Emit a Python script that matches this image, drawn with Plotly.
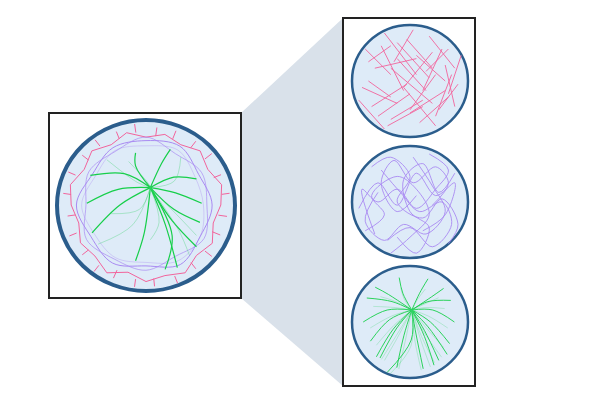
import math
import plotly.graph_objects as go

# ---- data (normalized to each circle: x right, y down, radius 1) ----
# left overview: pink jagged ring (angle deg, radius)
ring_ang = [0, 15, 30, 45, 60, 75, 90, 105, 120, 135, 150, 165, 180, 195, 210, 225, 240, 255, 270, 285, 300, 315, 330, 345, 360]
ring_rad = [0.86, 0.80, 0.88, 0.82, 0.90, 0.84, 0.88, 0.80, 0.90, 0.83, 0.87, 0.80, 0.86, 0.90, 0.82, 0.88, 0.80, 0.86, 0.78, 0.84, 0.80, 0.88, 0.82, 0.90, 0.86]
tick_ang = [8, 22, 38, 52, 68, 84, 98, 114, 128, 142, 158, 172, 188, 203, 218, 232, 248, 262, 278, 292, 308, 322, 338, 352]
tick_r0 = [0.84, 0.82, 0.86, 0.84, 0.88, 0.85, 0.86, 0.82, 0.88, 0.84, 0.86, 0.82, 0.87, 0.88, 0.84, 0.86, 0.82, 0.84, 0.80, 0.82, 0.83, 0.86, 0.84, 0.88]
tick_r1 = [0.94, 0.92, 0.96, 0.93, 0.97, 0.94, 0.95, 0.92, 0.97, 0.93, 0.95, 0.91, 0.96, 0.97, 0.93, 0.95, 0.91, 0.94, 0.90, 0.92, 0.93, 0.96, 0.93, 0.97]
# purple wavy rings (angles every 30 deg)
wave_ang = [0, 30, 60, 90, 120, 150, 180, 210, 240, 270, 300, 330, 360]
wave_a = [0.76, 0.72, 0.79, 0.70, 0.77, 0.73, 0.80, 0.71, 0.76, 0.74, 0.78, 0.70, 0.76]
wave_b = [0.70, 0.77, 0.68, 0.75, 0.72, 0.79, 0.69, 0.76, 0.71, 0.78, 0.68, 0.74, 0.70]
wave_c = [0.66, 0.72, 0.74, 0.66, 0.70, 0.68, 0.74, 0.67, 0.72, 0.68, 0.73, 0.65, 0.66]
# green rays: hub, mid points, end points
hub_l = (0.05, -0.2)
ray_mx = [-0.25, -0.32, -0.30, 0.32, 0.34, 0.32, 0.30, 0.22, 0.18, -0.12, 0.30, -0.02]
ray_my = [-0.36, -0.18, 0.00, -0.32, -0.14, 0.05, 0.18, 0.22, -0.48, -0.45, 0.35, 0.32]
ray_ex = [-0.64, -0.68, -0.62, 0.58, 0.64, 0.62, 0.58, 0.36, 0.28, -0.12, 0.22, -0.12]
ray_ey = [-0.34, -0.02, 0.32, -0.30, -0.02, 0.20, 0.48, 0.72, -0.64, -0.60, 0.74, 0.64]
faint_ex = [-0.55, -0.45, 0.40, 0.58, -0.40, 0.50, -0.20, 0.05]
faint_ey = [0.45, -0.52, -0.55, 0.35, 0.10, 0.58, -0.50, 0.40]

# right top: pink straight segments (x0, y0, x1, y1)
seg_x0 = [-0.70, -0.55, -0.40, -0.20, 0.05, 0.30, 0.50, -0.75, -0.60, -0.30, 0.10, 0.40, 0.60, -0.50, -0.10, 0.20, 0.45, -0.65, -0.35, 0.00, 0.35, -0.20, 0.15, -0.80, 0.55, -0.45, 0.25, -0.05, 0.65, -0.30]
seg_y0 = [-0.50, -0.20, -0.75, -0.60, -0.80, -0.70, -0.50, 0.10, 0.40, -0.20, -0.40, -0.10, 0.20, 0.55, 0.10, 0.30, 0.45, -0.30, 0.70, 0.50, -0.45, -0.35, 0.65, 0.30, -0.25, -0.55, -0.15, -0.65, -0.10, 0.25]
seg_x1 = [-0.30, 0.10, 0.10, 0.30, -0.25, 0.70, 0.20, -0.20, -0.05, 0.35, 0.55, 0.00, 0.80, 0.00, 0.40, -0.30, 0.75, -0.30, 0.20, 0.55, -0.10, 0.25, 0.60, -0.40, 0.70, -0.10, 0.60, 0.35, 0.40, -0.65]
seg_y1 = [-0.10, -0.35, -0.10, -0.05, -0.30, -0.20, 0.15, 0.35, 0.05, 0.35, 0.00, 0.45, -0.40, 0.20, 0.70, 0.60, 0.05, -0.55, 0.40, 0.15, 0.10, 0.15, 0.25, 0.75, 0.40, 0.15, -0.50, -0.20, 0.55, 0.00]
# right middle: purple tangled curves
tangle_x = [
    [-0.80, -0.50, -0.20, 0.10, 0.40, 0.70, 0.55, 0.20],
    [-0.60, -0.30, 0.00, -0.20, 0.20, 0.50, 0.75, 0.60],
    [-0.70, -0.40, -0.60, -0.20, 0.10, 0.30, 0.00, -0.30],
    [0.30, 0.60, 0.40, 0.10, -0.20, -0.50, -0.75, -0.55],
    [-0.35, 0.00, 0.35, 0.65, 0.50, 0.15, -0.15, -0.45],
    [0.70, 0.45, 0.20, -0.10, 0.00, 0.30, 0.10, -0.20],
    [-0.50, -0.70, -0.40, -0.10, 0.25, 0.55, 0.35, 0.05],
    [0.10, -0.20, -0.45, -0.25, 0.05, 0.40, 0.60, 0.35],
]
tangle_y = [
    [0.10, -0.30, 0.05, -0.45, -0.10, -0.30, 0.20, 0.45],
    [-0.55, -0.70, -0.40, 0.00, 0.25, -0.05, 0.35, 0.65],
    [0.45, 0.20, -0.10, -0.40, -0.20, 0.20, 0.55, 0.80],
    [-0.75, -0.50, -0.20, 0.10, -0.20, 0.00, -0.20, 0.50],
    [0.60, 0.40, 0.70, 0.35, 0.00, 0.15, -0.15, -0.50],
    [-0.45, -0.15, -0.60, -0.35, 0.15, 0.40, 0.80, 0.55],
    [-0.15, 0.30, 0.60, 0.35, 0.50, 0.15, -0.25, -0.70],
    [-0.10, 0.15, -0.30, -0.65, -0.30, -0.55, -0.30, 0.05],
]
# right bottom: green rays from hub
hub_r = (0.03, -0.2)
gr_mx = [-0.30, -0.38, -0.34, -0.22, 0.30, 0.38, 0.34, 0.24, 0.10, -0.12, 0.16, -0.36, 0.36, -0.10, 0.24, 0.02, -0.28, 0.30]
gr_my = [-0.34, -0.20, -0.04, 0.10, -0.34, -0.20, 0.00, 0.14, 0.20, -0.48, -0.48, -0.46, -0.42, 0.22, 0.24, 0.30, 0.12, 0.08]
gr_ex = [-0.72, -0.78, -0.66, -0.50, 0.68, 0.74, 0.66, 0.48, 0.22, -0.18, 0.30, -0.58, 0.56, -0.22, 0.40, -0.38, -0.56, 0.62]
gr_ey = [-0.40, 0.00, 0.32, 0.60, -0.36, 0.00, 0.36, 0.64, 0.78, -0.74, -0.72, -0.58, -0.56, 0.76, 0.72, 0.84, 0.58, 0.54]

PINK = "#f2649c"
PURPLE = "#a98af2"
GREEN = "#16cf4a"
LGREEN = "rgba(60,210,110,0.35)"
BLUE = "#2b5d8c"
FILL = "#deebf8"


def place(cx, cy, r, xs, ys):
    return [cx + r * x for x in xs], [cy + r * y for y in ys]


def polar(ang, rad):
    return ([r * math.cos(math.radians(a)) for a, r in zip(ang, rad)],
            [r * math.sin(math.radians(a)) for a, r in zip(ang, rad)])


fig = go.Figure()


def add(xs, ys, color, width=1.0, shape="linear"):
    fig.add_trace(go.Scatter(x=xs, y=ys, mode="lines", hoverinfo="skip",
                             line=dict(color=color, width=width, shape=shape)))


# left circle
L = (146, 205, 87)
px, py = polar(ring_ang, ring_rad)
add(*place(*L, px, py), PINK, 1)
for a, r0, r1 in zip(tick_ang, tick_r0, tick_r1):
    tx, ty = polar([a, a], [r0, r1])
    add(*place(*L, tx, ty), PINK, 1)
for w, c in [(wave_a, PURPLE), (wave_b, "rgba(169,138,242,0.7)"), (wave_c, "rgba(169,138,242,0.35)")]:
    wx, wy = polar(wave_ang, w)
    add(*place(*L, wx, wy), c, 1, "spline")
for mx, my, ex, ey in zip(ray_mx, ray_my, ray_ex, ray_ey):
    add(*place(*L, [hub_l[0], mx, ex], [hub_l[1], my, ey]), GREEN, 1.2, "spline")
for ex, ey in zip(faint_ex, faint_ey):
    add(*place(*L, [hub_l[0], (hub_l[0] + ex) / 2 + 0.1, ex], [hub_l[1], (hub_l[1] + ey) / 2 + 0.1, ey]), LGREEN, 1, "spline")

# right top
T = (410, 81, 64)
for x0, y0, x1, y1 in zip(seg_x0, seg_y0, seg_x1, seg_y1):
    add(*place(*T, [x0, x1], [y0, y1]), PINK, 0.9)
# right middle
M = (410, 202, 64)
for xs, ys in zip(tangle_x, tangle_y):
    add(*place(*M, xs, ys), PURPLE, 0.9, "spline")
# right bottom
B = (410, 322, 60)
for mx, my, ex, ey in zip(gr_mx, gr_my, gr_ex, gr_ey):
    add(*place(*B, [hub_r[0], mx, ex], [hub_r[1], my, ey]), GREEN, 0.9, "spline")
for mx, my, ex, ey in zip(gr_mx, gr_my, gr_ex, gr_ey):
    add(*place(*B, [hub_r[0], mx * 0.8, ex * 0.85], [hub_r[1], my + 0.1, ey * 0.9 + 0.1]), LGREEN, 0.8, "spline")

shapes = [
    dict(type="path", path="M 241 113 L 343 18 L 343 386 L 241 298 Z", fillcolor="#d9e1ea", line=dict(width=0), layer="below"),
    dict(type="rect", x0=49, y0=113, x1=241, y1=298, fillcolor="white", line=dict(color="#222", width=2), layer="below"),
    dict(type="rect", x0=343, y0=18, x1=475, y1=386, fillcolor="white", line=dict(color="#222", width=2), layer="below"),
    dict(type="circle", x0=57, y0=120, x1=235, y1=291, fillcolor=FILL, line=dict(color=BLUE, width=4), layer="below"),
]
for cy in [81, 202, 322]:
    shapes.append(dict(type="circle", x0=352, y0=cy - 56, x1=468, y1=cy + 56, fillcolor=FILL, line=dict(color=BLUE, width=2.5), layer="below"))

# page body has an 8px margin, so shift the view by 8
fig.update_layout(
    width=592, height=414, margin=dict(l=0, r=0, t=0, b=0),
    paper_bgcolor="white", plot_bgcolor="white", showlegend=False,
    xaxis=dict(range=[8, 600], visible=False, fixedrange=True),
    yaxis=dict(range=[422, 8], visible=False, fixedrange=True),
    shapes=shapes,
)
fig.write_html("out.html")
